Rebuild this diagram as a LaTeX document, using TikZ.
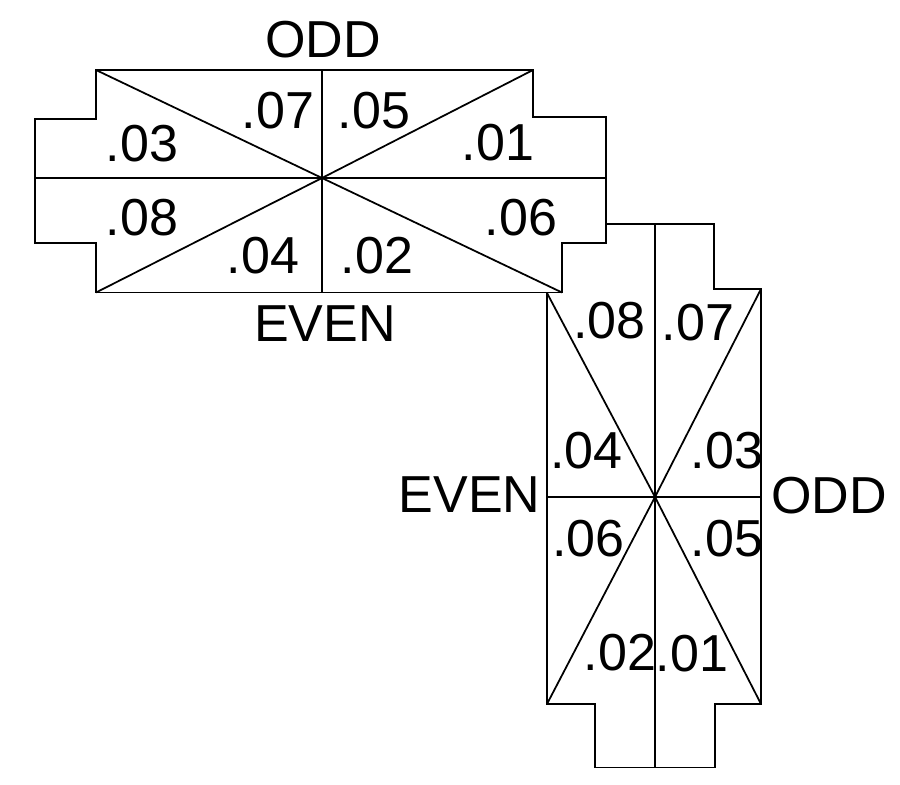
\documentclass[tikz,border=0pt]{standalone}
\usepackage{fontspec}
\setmainfont{Liberation Sans}
\tikzset{
  outline/.style={line width=0.5pt,line join=miter},
  lab/.style={inner sep=0pt,font=\fontsize{14.8}{15}\selectfont}
}
\begin{document}
\begin{tikzpicture}[yscale=1,xscale=1]
\useasboundingbox (0,0) rectangle (9,7.84);
%Upper plate outline
\draw[outline] (0.96,7.14)--(5.33,7.14)--(5.33,6.67)--(6.06,6.67)--(6.06,5.41)--(5.62,5.41)--(5.62,4.915)--(0.96,4.915)--(0.96,5.41)--(0.35,5.41)--(0.35,6.65)--(0.96,6.65)--cycle;
%Upper plate dividers
\coordinate (upc) at (3.22,6.06);
\draw[outline] (0.35,6.06)--(6.06,6.06);
\draw[outline] (3.22,7.14)--(3.22,4.915);
\draw[outline] (0.96,7.14)--(upc)--(5.62,4.915);
\draw[outline] (5.33,7.14)--(upc)--(0.96,4.915);
%Lower plate outline
\draw[outline] (6.06,5.60)--(7.14,5.60)--(7.14,4.95)--(7.61,4.95)--(7.61,0.80)--(7.15,0.80)--(7.15,0.165)--(5.95,0.165)--(5.95,0.80)--(5.47,0.80)--(5.47,4.91);
%Lower plate dividers
\coordinate (loc) at (6.55,2.87);
\draw[outline] (5.47,2.87)--(7.61,2.87);
\draw[outline] (6.55,5.60)--(6.55,0.165);
\draw[outline] (5.47,4.91)--(loc)--(7.61,0.80);
\draw[outline] (7.61,4.95)--(loc)--(5.47,0.80);
%Upper plate labels
\node[lab] (uodd) at (3.23,7.447) {ODD};
\node[lab] (ueven) at (3.25,4.605) {EVEN};
\node[lab] (u07) at (2.78,6.73) {.07};
\node[lab] (u05) at (3.74,6.73) {.05};
\node[lab] (u03) at (1.42,6.40) {.03};
\node[lab] (u01) at (4.98,6.41) {.01};
\node[lab] (u08) at (1.42,5.66) {.08};
\node[lab] (u06) at (5.21,5.665) {.06};
\node[lab] (u04) at (2.63,5.285) {.04};
\node[lab] (u02) at (3.77,5.285) {.02};
%Lower plate labels
\node[lab] (lodd) at (8.29,2.885) {ODD};
\node[lab] (leven) at (4.695,2.89) {EVEN};
\node[lab] (l08) at (6.095,4.63) {.08};
\node[lab] (l07) at (6.98,4.61) {.07};
\node[lab] (l04) at (5.865,3.33) {.04};
\node[lab] (l03) at (7.27,3.33) {.03};
\node[lab] (l06) at (5.885,2.45) {.06};
\node[lab] (l05) at (7.27,2.45) {.05};
\node[lab] (l02) at (6.20,1.315) {.02};
\node[lab] (l01) at (6.92,1.30) {.01};
\end{tikzpicture}
\end{document}
